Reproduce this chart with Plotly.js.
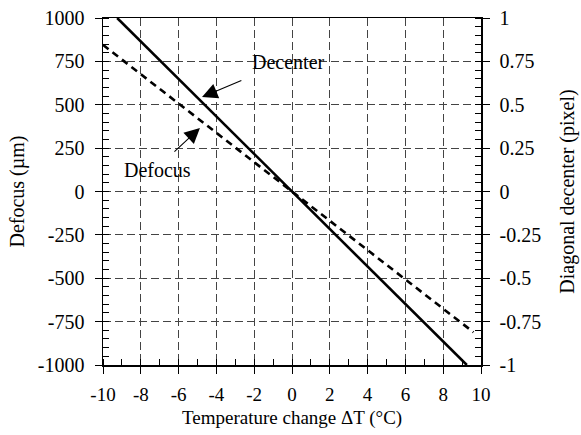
<!DOCTYPE html>
<html>
<head>
<meta charset="utf-8">
<script src="https://cdn.plot.ly/plotly-3.0.1.min.js"></script>
<style>html,body{margin:0;padding:0;background:#fff;}#chart{width:581px;height:435px;}</style>
</head>
<body>
<div id="chart"></div>
<script>
// Data
var tempDecenter = [-9.25, 9.25];      // Temperature change ΔT (°C)
var decenterPx = [1.0, -1.0];          // Diagonal decenter (pixel), right axis
var tempDefocus = [-10, 9.6];          // Temperature change ΔT (°C)
var defocusUm = [845, -811];           // Defocus (µm), left axis

var xTicks = [-10, -8, -6, -4, -2, 0, 2, 4, 6, 8, 10];
var yTicks = [1000, 750, 500, 250, 0, -250, -500, -750, -1000];
var y2Ticks = [1, 0.75, 0.5, 0.25, 0, -0.25, -0.5, -0.75, -1];
var y2Labels = ['1', '0.75', '0.5', '0.25', '0', '-0.25', '-0.5', '-0.75', '-1'];

var FONT = '"Liberation Serif", "Times New Roman", serif';
var fs = 20;
var fsx = 19;

var traces = [
  {x: tempDefocus, y: defocusUm, type: 'scatter', mode: 'lines', yaxis: 'y',
   line: {color: '#000', width: 2.6, dash: '7px,5px'}, showlegend: false, hoverinfo: 'skip'},
  {x: tempDecenter, y: decenterPx, type: 'scatter', mode: 'lines', yaxis: 'y2',
   line: {color: '#000', width: 2.6}, showlegend: false, hoverinfo: 'skip'}
];

var gridStyle = {gridcolor: '#444', griddash: '8px,4px', gridwidth: 1};

var layout = {
  width: 581, height: 435,
  margin: {l: 103, r: 100, t: 18, b: 70},
  paper_bgcolor: '#fff', plot_bgcolor: '#fff',
  font: {family: FONT, size: fs, color: '#000'},
  xaxis: Object.assign({
    range: [-10, 10], tickvals: xTicks, ticktext: xTicks.map(String),
    showgrid: true, zeroline: false,
    showline: true, linecolor: '#000', linewidth: 1.5, mirror: true,
    ticks: 'outside', ticklen: 7, tickcolor: '#000', tickwidth: 1, ticklabelstandoff: 5,
    minor: {dtick: 1, tick0: -10, ticks: 'inside', ticklen: 6, tickcolor: '#000', showgrid: false},
    tickfont: {family: FONT, size: fsx}
  }, gridStyle),
  yaxis: Object.assign({
    range: [-1000, 1000], tickvals: yTicks, ticktext: yTicks.map(String),
    showgrid: true, zeroline: false,
    showline: true, linecolor: '#000', linewidth: 1.5,
    ticks: 'outside', ticklen: 7, tickcolor: '#000', tickwidth: 1, ticklabelstandoff: 6,
    minor: {dtick: 50, tick0: 0, ticks: 'inside', ticklen: 6, tickcolor: '#000', showgrid: false},
    tickfont: {family: FONT, size: fs},
    title: {text: 'Defocus (µm)', font: {family: FONT, size: fs}, standoff: 8}
  }, gridStyle),
  yaxis2: {
    overlaying: 'y', side: 'right',
    range: [-1, 1], tickvals: y2Ticks, ticktext: y2Labels,
    showgrid: false, zeroline: false,
    showline: true, linecolor: '#000', linewidth: 1.5,
    ticks: 'outside', ticklen: 7, tickcolor: '#000', tickwidth: 1, ticklabelstandoff: 6,
    minor: {dtick: 0.05, tick0: 0, ticks: 'inside', ticklen: 6, tickcolor: '#000', showgrid: false},
    tickfont: {family: FONT, size: fs},
    title: {text: 'Diagonal decenter (pixel)', font: {family: FONT, size: fs}, standoff: 20}
  },
  annotations: [
    {x: 0.5, y: -0.153, xref: 'paper', yref: 'paper', xanchor: 'center', yanchor: 'middle',
     text: 'Temperature change ΔT (°C)', showarrow: false, font: {family: FONT, size: fsx}},
    {x: -4.76, y: 545, ax: -2.6, ay: 643, xref: 'x', yref: 'y', axref: 'x', ayref: 'y',
     text: '', showarrow: true, arrowhead: 2, arrowsize: 2.8, arrowwidth: 1.1, arrowcolor: '#000'},
    {x: -0.2, y: 745, xref: 'x', yref: 'y', text: 'Decenter', showarrow: false,
     font: {family: FONT, size: fs}},
    {x: -4.87, y: 366, ax: -6.3, ay: 222, xref: 'x', yref: 'y', axref: 'x', ayref: 'y',
     text: '', showarrow: true, arrowhead: 2, arrowsize: 2.8, arrowwidth: 1.1, arrowcolor: '#000'},
    {x: -7.1, y: 124, xref: 'x', yref: 'y', text: 'Defocus', showarrow: false,
     font: {family: FONT, size: fs}}
  ]
};

Plotly.newPlot('chart', traces, layout, {staticPlot: true, displayModeBar: false});
</script>
</body>
</html>
